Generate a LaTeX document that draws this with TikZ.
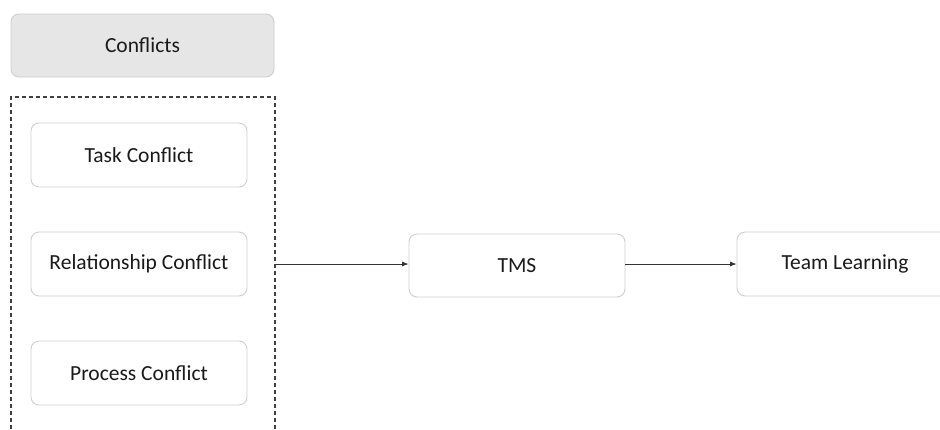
\documentclass[tikz,border=0pt]{standalone}
\usepackage{fontspec}
\setmainfont{Carlito}
\usetikzlibrary{arrows.meta}
\definecolor{boxline}{HTML}{CFCFCF}
\definecolor{headfill}{HTML}{E6E6E6}
\definecolor{txt}{HTML}{1A1A1A}
\tikzset{
  rbox/.style={draw=boxline, line width=0.9pt, rounded corners=8pt, fill=white, inner sep=0pt, text=txt, font=\fontsize{21.5}{25}\selectfont},
  conn/.style={draw=black!80, line width=0.7pt, -{Latex[length=6.5pt,width=5pt]}},
}
\begin{document}
\begin{tikzpicture}[x=1pt,y=-1pt]
\useasboundingbox (0,0) rectangle (940,429);
\fill[white] (0,0) rectangle (940,429);
% header
\node[rbox, fill=headfill, minimum width=263pt, minimum height=63pt] (head) at (142.5,45.5) {Conflicts};
% dashed group
\draw[black!75, line width=1.1pt, dash pattern=on 4pt off 3pt] (11,450) -- (11,97) -- (275,97) -- (275,450);
\coordinate (grpR) at (275,264);
\node[rbox, minimum width=216pt, minimum height=64pt] (task) at (139,155) {Task Conflict};
\node[rbox, minimum width=216pt, minimum height=64pt] (rel) at (139,264) {Relationship Conflict};
\node[rbox, minimum width=216pt, minimum height=64pt] (proc) at (139,373) {Process Conflict};
\node[rbox, minimum width=216pt, minimum height=63pt] (tms) at (517,265.5) {TMS};
\node[rbox, minimum width=216pt, minimum height=64pt] (tl) at (845,264) {Team Learning};
\draw[conn] (grpR) -- (tms.west |- grpR);
\draw[conn] (tms.east |- grpR) -- (tl.west |- grpR);
\end{tikzpicture}
\end{document}
